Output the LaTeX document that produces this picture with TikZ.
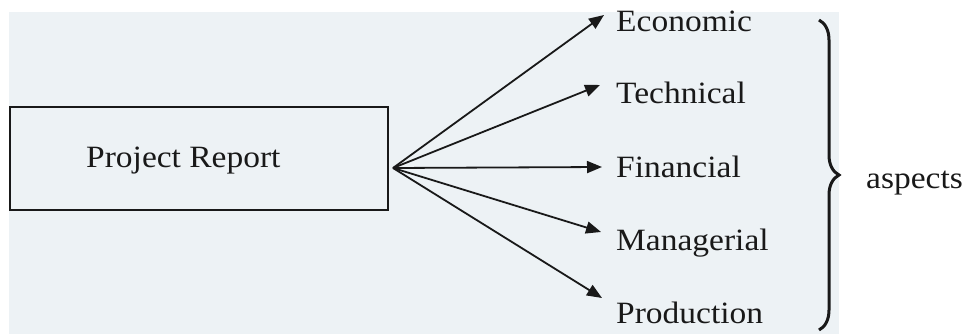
\documentclass[tikz,border=0pt]{standalone}
\usepackage{fontspec}
\setmainfont[FakeStretch=1.08]{Liberation Serif}
\usetikzlibrary{arrows.meta,decorations.pathreplacing}
\definecolor{scan}{RGB}{237,242,245}
\definecolor{ink}{RGB}{25,25,25}
\tikzset{
  lbl/.style={anchor=base west, inner sep=0pt, font=\fontsize{31}{36}\selectfont, text=ink},
  conn/.style={draw=ink, line width=1.8pt, -{Triangle[length=15pt,width=12pt]}},
  box/.style={draw=ink, line width=1.5pt, minimum width=378pt, minimum height=103pt, inner sep=0pt}
}
\begin{document}
\begin{tikzpicture}[x=1pt,y=-1pt]
\useasboundingbox (0,0) rectangle (968,334);
\fill[scan] (9,12) rectangle (839,334);
\node[box] (pr) at (199,158.5) {};
\node[lbl] (prt) at (86,167) {Project Report};
\coordinate (o) at (393,168);
\node[lbl] (eco) at (616,32) {Economic};
\node[lbl] (tec) at (616,103) {Technical};
\node[lbl] (fin) at (616,177) {Financial};
\node[lbl] (man) at (616,250) {Managerial};
\node[lbl] (pro) at (616,323) {Production};
\coordinate (tE) at (604,15);
\coordinate (tT) at (600,85);
\coordinate (tF) at (602,167);
\coordinate (tM) at (601,232);
\coordinate (tP) at (602,298);
\draw[conn] (o) -- (tE);
\draw[conn] (o) -- (tT);
\draw[conn] (o) -- (tF);
\draw[conn] (o) -- (tM);
\draw[conn] (o) -- (tP);
\coordinate (bt) at (819,20);
\coordinate (bb) at (819,330);
\draw[ink, line width=3pt, decorate, decoration={brace, amplitude=20pt}] (bt) -- (bb);
\node[lbl] (asp) at (866,188) {aspects};
\end{tikzpicture}
\end{document}
